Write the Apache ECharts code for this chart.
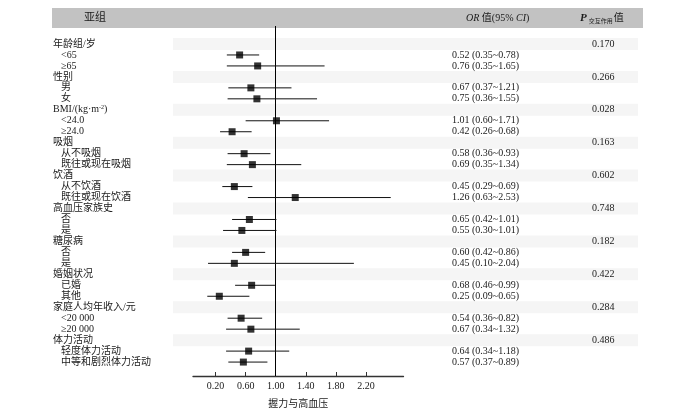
<!DOCTYPE html>
<html><head><meta charset="utf-8">
<script src="https://cdn.jsdelivr.net/npm/echarts@6/dist/echarts.min.js"></script>
<style>html,body{margin:0;padding:0;background:#fff}#c{width:700px;height:414px}</style>
</head><body><div id="c"></div>
<script>
const groupNames = ['年龄组/岁','性别','BMI/(kg·m{sup|-2})','吸烟','饮酒','高血压家族史','糖尿病','婚姻状况','家庭人均年收入/元','体力活动'];
const pInteraction = ['0.170','0.266','0.028','0.163','0.602','0.748','0.182','0.422','0.284','0.486'];
const levelNames = [['<65','≥65'],['男','女'],['<24.0','≥24.0'],['从不吸烟','既往或现在吸烟'],['从不饮酒','既往或现在饮酒'],['否','是'],['否','是'],['已婚','其他'],['<20 000','≥20 000'],['轻度体力活动','中等和剧烈体力活动']];
const orValues = [0.52,0.76,0.67,0.75,1.01,0.42,0.58,0.69,0.45,1.26,0.65,0.55,0.60,0.45,0.68,0.25,0.54,0.67,0.64,0.57];
const ciLower  = [0.35,0.35,0.37,0.36,0.60,0.26,0.36,0.35,0.29,0.63,0.42,0.30,0.42,0.10,0.46,0.09,0.36,0.34,0.34,0.37];
const ciUpper  = [0.78,1.65,1.21,1.55,1.71,0.68,0.93,1.34,0.69,2.53,1.01,1.01,0.86,2.04,0.99,0.65,0.82,1.32,1.18,0.89];
const xTicks = [0.20,0.60,1.00,1.40,1.80,2.20];
const refValue = 1.00;

const FONT = '"Liberation Serif","Times New Roman","Noto Sans CJK SC",serif';
const TXT = '#1a1a1a';

const headerRows = [];   // [row, name, p]
const levelRows = [];    // [row, name, orText]
const ciData = [];       // [lo, hi, row]
const pointData = [];    // [or, row]
let k = 0;
groupNames.forEach((g, gi) => {
  const r = gi * 3;
  headerRows.push([r, g, pInteraction[gi]]);
  levelNames[gi].forEach((nm, li) => {
    const row = r + 1 + li;
    const txt = orValues[k].toFixed(2) + ' (' + ciLower[k].toFixed(2) + '~' + ciUpper[k].toFixed(2) + ')';
    levelRows.push([row, nm, txt]);
    ciData.push([ciLower[k], ciUpper[k], row]);
    pointData.push([orValues[k], row]);
    k++;
  });
});

const chart = echarts.init(document.getElementById('c'), null, {renderer: 'canvas'});
const richSup = {sup: {fontSize: 6, verticalAlign: 'top', padding: [0, 0, 5, 0], fontFamily: FONT, fill: TXT}};

chart.setOption({
  animation: false,
  backgroundColor: '#fff',
  grid: {left: 193, right: 296.5, top: 26, bottom: 37},
  xAxis: {
    type: 'value', min: -0.1, max: 2.7,
    splitLine: {show: false},
    axisLine: {show: true, onZero: false, lineStyle: {color: '#333', width: 1.3}},
    axisTick: {show: true, inside: true, length: 4, customValues: xTicks, lineStyle: {color: '#333'}},
    axisLabel: {customValues: xTicks, formatter: v => v.toFixed(2), fontFamily: FONT, fontSize: 10, color: TXT, margin: 5},
    name: '握力与高血压', nameLocation: 'middle', nameGap: 23,
    nameTextStyle: {fontFamily: FONT, fontSize: 10, color: TXT}
  },
  yAxis: {
    type: 'value', min: -1.64, max: 30.27, inverse: true, show: false
  },
  graphic: [
    {type: 'rect', shape: {x: 52, y: 8, width: 591, height: 20}, style: {fill: '#c2c2c2'}, z: 0},
    {type: 'text', x: 84, y: 18, style: {text: '亚组', font: '11px ' + FONT, fill: TXT, verticalAlign: 'middle'}},
    {type: 'text', x: 466, y: 18, style: {
      text: '{i|OR} 值(95% {i|CI})', font: '10px ' + FONT, fill: TXT, verticalAlign: 'middle',
      rich: {i: {fontStyle: 'italic', fontFamily: FONT, fontSize: 10, fill: TXT}}}},
    {type: 'text', x: 580, y: 18, style: {
      text: '{p|P}{s|交互作用}值', font: '10px ' + FONT, fill: TXT, verticalAlign: 'middle',
      rich: {p: {fontStyle: 'italic', fontWeight: 'bold', fontFamily: FONT, fontSize: 11, fill: TXT},
             s: {fontSize: 6, fontFamily: FONT, fill: TXT, verticalAlign: 'bottom', padding: [6, 1, 0, 2]}}}}
  ],
  series: [
    {
      type: 'custom', silent: true, z: 1,
      data: headerRows.map(d => [d[0]]),
      encode: {y: 0},
      renderItem: (params, api) => {
        const y = api.coord([0, api.value(0)])[1];
        return {type: 'rect', shape: {x: 173, y: y - 6, width: 465, height: 12}, style: {fill: '#f5f5f5'}};
      }
    },
    {
      type: 'custom', silent: true, z: 5,
      data: headerRows.map(d => [d[0]]),
      encode: {y: 0},
      renderItem: (params, api) => {
        const d = headerRows[params.dataIndex];
        const y = api.coord([0, api.value(0)])[1];
        return {type: 'group', children: [
          {type: 'text', x: 53, y: y, style: {text: d[1], font: '10px ' + FONT, fill: TXT, verticalAlign: 'middle', rich: richSup}},
          {type: 'text', x: 592, y: y, style: {text: d[2], font: '10px ' + FONT, fill: TXT, verticalAlign: 'middle'}}
        ]};
      }
    },
    {
      type: 'custom', silent: true, z: 5,
      data: levelRows.map(d => [d[0]]),
      encode: {y: 0},
      renderItem: (params, api) => {
        const d = levelRows[params.dataIndex];
        const y = api.coord([0, api.value(0)])[1];
        return {type: 'group', children: [
          {type: 'text', x: 61, y: y, style: {text: d[1], font: '10px ' + FONT, fill: TXT, verticalAlign: 'middle'}},
          {type: 'text', x: 452, y: y, style: {text: d[2], font: '10px ' + FONT, fill: TXT, verticalAlign: 'middle'}}
        ]};
      }
    },
    {
      type: 'custom', silent: true, z: 6,
      data: ciData,
      encode: {x: [0, 1], y: 2},
      renderItem: (params, api) => {
        const a = api.coord([api.value(0), api.value(2)]);
        const b = api.coord([api.value(1), api.value(2)]);
        return {type: 'line', shape: {x1: a[0], y1: a[1], x2: b[0], y2: b[1]}, style: {stroke: '#111', lineWidth: 1}};
      }
    },
    {
      type: 'scatter', symbol: 'rect', symbolSize: 7, z: 7,
      itemStyle: {color: '#000'},
      data: pointData,
      markLine: {
        silent: true, symbol: 'none', label: {show: false},
        lineStyle: {color: '#000', width: 1, type: 'solid'},
        data: [{xAxis: refValue}]
      }
    }
  ]
});
</script></body></html>
